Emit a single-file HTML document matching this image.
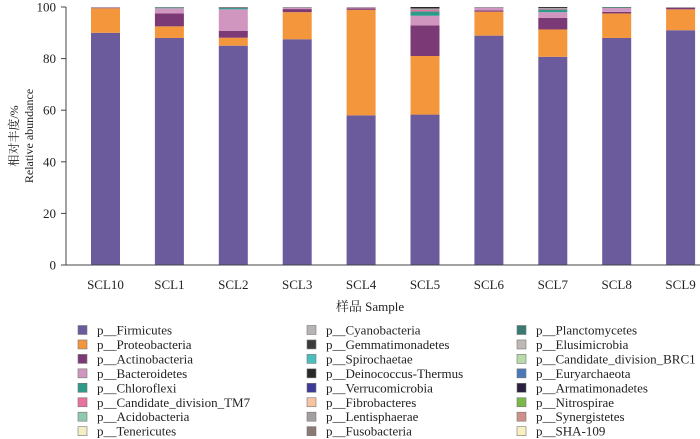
<!DOCTYPE html>
<html><head><meta charset="utf-8"><style>
body{margin:0;background:#fff;}
svg{display:block;font-family:"Liberation Serif","Noto Serif CJK SC",serif;}
</style></head><body>
<svg id="c" width="700" height="439"></svg>
<script>
const categories=["SCL10","SCL1","SCL2","SCL3","SCL4","SCL5","SCL6","SCL7","SCL8","SCL9"];
const seriesNames=["p__Firmicutes","p__Proteobacteria","p__Actinobacteria","p__Bacteroidetes","p__Chloroflexi","p__Candidate_division_TM7","p__Acidobacteria","p__Tenericutes","p__Cyanobacteria","p__Gemmatimonadetes","p__Spirochaetae","p__Deinococcus-Thermus","p__Verrucomicrobia","p__Fibrobacteres","p__Lentisphaerae","p__Fusobacteria","p__Planctomycetes","p__Elusimicrobia","p__Candidate_division_BRC1","p__Euryarchaeota","p__Armatimonadetes","p__Nitrospirae","p__Synergistetes","p__SHA-109"];
const colors=["#6b5a9c","#f4973c","#7b3a75","#d096c0","#2f9a8a","#e8729f","#8fc9b0","#f5edc5","#b8b4b4","#3a3a3a","#4bbfc0","#2a2826","#3f3a96","#f6c4a0","#a39ea2","#8a7a74","#3a7a72","#c0b8b4","#b8dca8","#4a78b8","#2a2040","#7ab84a","#d0908a","#f8f0c0"];
const firmicutes=[90,88,85,87.5,58,58.3,88.9,80.7,88,91];
const proteobacteria=[9.5,4.5,3.1,10.5,40.9,22.7,9.3,10.6,9.5,8.1];
const actinobacteria=[0.1,5,2.6,1.2,0.6,11.9,0.5,4.5,0.6,0.6];
const bacteroidetes=[0.3,2,8.4,0.6,0.4,3.7,1.1,2.2,1.5,0.2];
const chloroflexi=[0.05,0.3,0.5,0.1,0.05,1.7,0.1,1,0.2,0.05];
const tm7=[0,0.1,0.1,0,0,0.6,0,0.3,0,0];
const others=[0.05,0.1,0.3,0.1,0.05,1.1,0.1,0.7,0.2,0.05];
const yTicks=[0,20,40,60,80,100];
const series=[firmicutes,proteobacteria,actinobacteria,bacteroidetes,chloroflexi,tm7];
const otherColors=["#9a9a9a","#2a2826"];
const NS="http://www.w3.org/2000/svg";
const svg=document.getElementById('c');
function el(t,a,p){const e=document.createElementNS(NS,t);for(const k in a)e.setAttribute(k,a[k]);(p||svg).appendChild(e);return e;}
const y0=265,y1=7,xL=66;
function y(v){return y0-(y0-y1)*v/100;}
function x(i){return 105.5+i*63.9;}
const bw=29;
const bars=el('g',{});


categories.forEach((c,i)=>{
  let acc=0;
  const segs=series.map((s,k)=>({v:s[i],col:colors[k],n:seriesNames[k]}));
  segs.push({v:others[i]/2,col:otherColors[0],n:'other'});
  segs.push({v:others[i]/2,col:otherColors[1],n:'other'});
  segs.forEach(sg=>{
    if(sg.v<=0)return;
    const r=el('rect',{x:x(i)-bw/2,y:y(acc+sg.v),width:bw,height:y(acc)-y(acc+sg.v),fill:sg.col},bars);
    
    
    acc+=sg.v;
  });
  const t=el('text',{x:x(i),y:289,'text-anchor':'middle','font-size':13,fill:'#222'});
  t.textContent=c;
  
  
});
const ax=el('line',{x1:xL,y1:y1,x2:xL,y2:y0,stroke:'#444','stroke-width':1});


const xa=el('line',{x1:xL,y1:y0,x2:700,y2:y0,stroke:'#444','stroke-width':1});


yTicks.forEach(v=>{
  const l=el('line',{x1:xL-5,y1:y(v),x2:xL,y2:y(v),stroke:'#444'});
  
  
  const t=el('text',{x:xL-10,y:y(v)+4.5,'text-anchor':'end','font-size':13,fill:'#222'});
  t.textContent=v;
  
  
});
const yt=el('text',{x:0,y:0,'text-anchor':'middle','font-size':12,fill:'#222',transform:'translate(30,136) rotate(-90)'});
yt.innerHTML='<tspan x="0" dy="-12">相对丰度/%</tspan><tspan x="0" dy="15">Relative abundance</tspan>';


const xt=el('text',{x:370,y:311,'text-anchor':'middle','font-size':13,fill:'#222'});
xt.textContent='样品 Sample';


const lg=el('g',{});


const colX=[78,307,517];
seriesNames.forEach((n,k)=>{
  const col=Math.floor(k/8),row=k%8;
  const yy=330+row*14.45;
  const r=el('rect',{x:colX[col],y:yy-4.5,width:9,height:9,fill:colors[k],stroke:'#777','stroke-width':0.6},lg);
  
  
  const t=el('text',{x:colX[col]+19,y:yy+4.5,'font-size':13,fill:'#222'},lg);
  t.textContent=n;
  
  
});
</script>
</body></html>
